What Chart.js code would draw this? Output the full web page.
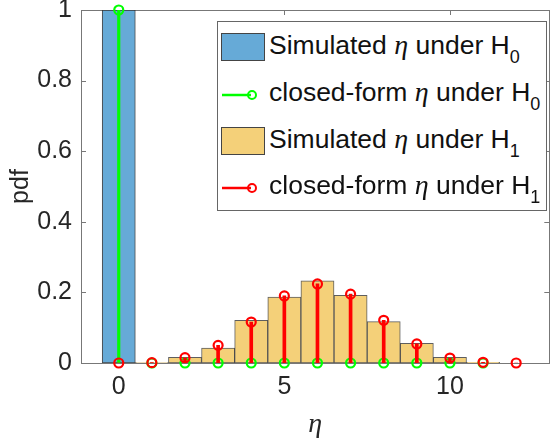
<!DOCTYPE html>
<html lang="en">
<head>
<meta charset="UTF-8">
<title>pdf of eta</title>
<script src="https://cdn.jsdelivr.net/npm/chart.js"></script>
<style>
    html, body { margin: 0; padding: 0; background: #fff; }
    #wrap { position: relative; width: 556px; height: 445px; }
    /* legend box, drawn in html on top of the canvas */
    #legend {
        position: absolute; left: 217px; top: 21px; width: 330px; height: 190px;
        box-sizing: border-box; border: 1px solid #666; background: #fff;
        font-family: 'Liberation Sans', Arial, sans-serif; font-size: 26.5px; color: #111;
    }
    .row { position: absolute; left: 0; width: 100%; height: 40px; }
    .patch { position: absolute; left: 3px; top: 5px; width: 44px; height: 28px; box-sizing: border-box; border: 1px solid #444; }
    .sym { position: absolute; left: 3px; top: 10px; }
    .txt { position: absolute; left: 51px; top: 2px; white-space: nowrap; line-height: 30px; }
    .eta { font-family: 'Liberation Serif', 'DejaVu Serif', serif; font-style: italic; font-size: 28px; }
    sub { font-size: 18px; vertical-align: -9px; }
</style>
</head>
<body>
<div id="wrap">
    <canvas id="chart" width="556" height="445"></canvas>
    <div id="legend">
        <div class="row" style="top:6px">
            <div class="patch" style="background:#66AAD7"></div>
            <div class="txt">Simulated <span class="eta">η</span> under H<sub>0</sub></div>
        </div>
        <div class="row" style="top:53px">
            <svg class="sym" width="40" height="20"><line x1="1" y1="10" x2="30" y2="10" stroke="#00FF00" stroke-width="2.5"/><circle cx="31" cy="10" r="4" fill="none" stroke="#00FF00" stroke-width="2"/></svg>
            <div class="txt">closed-form <span class="eta">η</span> under H<sub>0</sub></div>
        </div>
        <div class="row" style="top:100px">
            <div class="patch" style="background:#F4D079"></div>
            <div class="txt">Simulated <span class="eta">η</span> under H<sub>1</sub></div>
        </div>
        <div class="row" style="top:146px">
            <svg class="sym" width="40" height="20"><line x1="1" y1="10" x2="30" y2="10" stroke="#FF0000" stroke-width="2.5"/><circle cx="31" cy="10" r="4" fill="none" stroke="#FF0000" stroke-width="2"/></svg>
            <div class="txt">closed-form <span class="eta">η</span> under H<sub>1</sub></div>
        </div>
    </div>
</div>
<script>
    // datos
    const binsH0 = [0];
    const simH0 = [1];
    const binsH1 = [1, 2, 3, 4, 5, 6, 7, 8, 9, 10, 11];
    const simH1 = [0.001, 0.016, 0.042, 0.121, 0.187, 0.233, 0.192, 0.117, 0.056, 0.016, 0.002];
    const etaH0 = [0, 1, 2, 3, 4, 5, 6, 7, 8, 9, 10, 11];
    const closedH0 = [1, 0, 0, 0, 0, 0, 0, 0, 0, 0, 0, 0];
    const etaH1 = [0, 1, 2, 3, 4, 5, 6, 7, 8, 9, 10, 11, 12];
    const closedH1 = [0, 0.001, 0.015, 0.05, 0.116, 0.19, 0.224, 0.195, 0.121, 0.054, 0.014, 0.002, 0];
    const xTicks = [0, 5, 10];
    const yTicks = [0, 0.2, 0.4, 0.6, 0.8, 1];

    const pts = (xs, ys) => xs.map((x, i) => ({ x: x, y: ys[i] }));

    // marco y marcas hacia dentro (estilo matlab)
    const frame = {
        id: 'frame',
        beforeDatasetsDraw(chart) {
            const { ctx, chartArea: a, scales: { x, y } } = chart;
            ctx.save();
            ctx.strokeStyle = '#777';
            ctx.lineWidth = 1;
            ctx.strokeRect(Math.round(a.left) + 0.5, Math.round(a.top) + 0.5, Math.round(a.right - a.left), Math.round(a.bottom - a.top));
            ctx.beginPath();
            xTicks.forEach(v => {
                const px = Math.round(x.getPixelForValue(v)) + 0.5;
                ctx.moveTo(px, a.bottom); ctx.lineTo(px, a.bottom - 5);
                ctx.moveTo(px, a.top); ctx.lineTo(px, a.top + 5);
            });
            yTicks.forEach(v => {
                const py = Math.round(y.getPixelForValue(v)) + 0.5;
                ctx.moveTo(a.left, py); ctx.lineTo(a.left + 5, py);
                ctx.moveTo(a.right, py); ctx.lineTo(a.right - 5, py);
            });
            ctx.stroke();
            ctx.restore();
        }
    };

    const ctx = document.getElementById('chart').getContext('2d');
    const chart = new Chart(ctx, {
        type: 'bar',
        data: {
            datasets: [
                {   // marcadores H1
                    type: 'scatter', data: pts(etaH1, closedH1), showLine: false,
                    pointStyle: 'circle', pointRadius: 4.5, borderWidth: 2.2,
                    borderColor: '#FF0000', backgroundColor: 'rgba(0,0,0,0)', clip: false
                },
                {   // tallos H1
                    data: pts(etaH1, closedH1), backgroundColor: '#FF0000',
                    barThickness: 3, grouped: false, borderWidth: 0
                },
                {   // marcadores H0
                    type: 'scatter', data: pts(etaH0, closedH0), showLine: false,
                    pointStyle: 'circle', pointRadius: 4.5, borderWidth: 2.2,
                    borderColor: '#00FF00', backgroundColor: 'rgba(0,0,0,0)', clip: false
                },
                {   // tallos H0
                    data: pts(etaH0, closedH0), backgroundColor: '#00FF00',
                    barThickness: 2.5, grouped: false, borderWidth: 0
                },
                {   // histograma H1
                    data: pts(binsH1, simH1), backgroundColor: '#F4D079',
                    borderColor: 'rgba(40,40,40,0.75)', borderWidth: 1, borderSkipped: false,
                    barPercentage: 1, categoryPercentage: 1, grouped: false
                },
                {   // histograma H0
                    data: pts(binsH0, simH0), backgroundColor: '#66AAD7',
                    borderColor: 'rgba(40,40,40,0.85)', borderWidth: 1, borderSkipped: false,
                    barPercentage: 1, categoryPercentage: 1, grouped: false
                }
            ]
        },
        options: {
            responsive: false,
            animation: false,
            layout: { padding: { top: 10, right: 2, left: 0, bottom: 0 } },
            plugins: { legend: { display: false }, tooltip: { enabled: false } },
            scales: {
                x: {
                    type: 'linear', min: -1.14, max: 13, offset: false,
                    afterBuildTicks: s => { s.ticks = xTicks.map(v => ({ value: v })); },
                    afterFit: s => { s.height = 82; s.paddingLeft = 0; s.paddingRight = 0; },
                    grid: { display: false, drawTicks: false, offset: false },
                    border: { display: false },
                    ticks: { color: '#262626', padding: 9, font: { family: 'Liberation Sans', size: 25 } },
                    title: {
                        display: true, text: 'η', color: '#262626', padding: { top: 14 },
                        font: { family: 'Liberation Serif', style: 'italic', size: 28 }
                    }
                },
                y: {
                    min: 0, max: 1,
                    afterBuildTicks: s => { s.ticks = yTicks.map(v => ({ value: v })); },
                    afterFit: s => { s.width = 81; s.paddingTop = 0; s.paddingBottom = 0; },
                    grid: { display: false, drawTicks: false },
                    border: { display: false },
                    ticks: {
                        color: '#262626', padding: 9, font: { family: 'Liberation Sans', size: 25 },
                        callback: v => String(Math.round(v * 10) / 10)
                    },
                    title: {
                        display: true, text: 'pdf', color: '#262626', padding: { top: 6 },
                        font: { family: 'Liberation Sans', size: 25 }
                    }
                }
            }
        },
        plugins: [frame]
    });
</script>
</body>
</html>
